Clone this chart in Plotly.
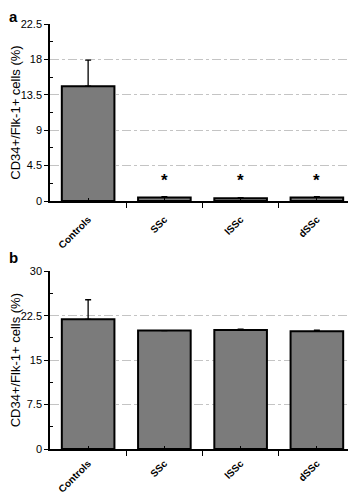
import plotly.graph_objects as go

categories = ["Controls", "SSc", "lSSc", "dSSc"]
values_a = [14.6, 0.45, 0.35, 0.45]
errors_a = [3.3, 0.1, 0.08, 0.12]
values_b = [21.9, 20.0, 20.1, 19.9]
errors_b = [3.3, 0.0, 0.15, 0.15]
star_labels = ["", "*", "*", "*"]
star_y = 2.6
ticks_a = [0, 4.5, 9, 13.5, 18, 22.5]
ticks_b = [0, 7.5, 15, 22.5, 30]
y_title = "CD34+/Flk-1+ cells (%)"
panel_labels = ["a", "b"]

xpos = list(range(len(categories)))
BAR = "#7b7b7b"
FONT = "Liberation Sans, Arial, sans-serif"

fig = go.Figure()
for vals, errs, xa, ya in [(values_a, errors_a, "x", "y"), (values_b, errors_b, "x2", "y2")]:
    fig.add_trace(go.Bar(
        x=xpos, y=vals, xaxis=xa, yaxis=ya, width=0.69,
        marker=dict(color=BAR, line=dict(color="black", width=2)),
        error_y=dict(type="data", symmetric=False, array=errs,
                     arrayminus=[0] * len(errs), color="black",
                     thickness=1.3, width=3),
        showlegend=False,
    ))

for i, s in enumerate(star_labels):
    if s:
        fig.add_annotation(x=xpos[i], y=star_y, xref="x", yref="y", text="<b>%s</b>" % s,
                           showarrow=False, font=dict(size=17, color="black", family=FONT),
                           yanchor="middle")

def xaxis_common(domain_anchor, standoff):
    return dict(
        range=[-0.5, 3.5], tickmode="array", tickvals=xpos, ticktext=categories,
        tickangle=-45, ticks="inside", ticklen=3, tickcolor="black", tickwidth=1,
        tickfont=dict(size=10, family="Liberation Sans, Arial", color="black", weight="bold"),
        ticklabelstandoff=standoff,
        showline=True, linecolor="black", linewidth=1.5, showgrid=False, zeroline=False,
        minor=dict(tick0=0.5, dtick=1, ticks="outside", ticklen=5, tickcolor="black", tickwidth=1),
        anchor=domain_anchor, fixedrange=True, automargin=False,
    )

def yaxis_common(rng, tv, dom, anchor):
    step = tv[1] - tv[0]
    return dict(
        domain=dom, range=rng, tickmode="array", tickvals=tv,
        ticktext=[("%g" % t) for t in tv],
        ticks="outside", ticklen=4, tickcolor="black", tickwidth=1,
        tickfont=dict(size=11, family=FONT, color="black"),
        showline=True, linecolor="black", linewidth=1.5,
        showgrid=True, gridcolor="#c4c4c4", gridwidth=1, griddash="dashdot",
        zeroline=False, anchor=anchor, automargin=False,
        minor=dict(tick0=step / 2, dtick=step, ticks="inside", ticklen=3,
                   tickcolor="black", tickwidth=1, showgrid=False),
        title=dict(text=y_title, font=dict(size=13, family=FONT, color="black"), standoff=2),
        fixedrange=True,
    )

# The page body has an 8px default margin, so the figure is 8px smaller.
fig.update_layout(
    width=348, height=487,
    margin=dict(l=42, r=1, t=16, b=46),
    paper_bgcolor="white", plot_bgcolor="white",
    bargap=0.3,
    xaxis=dict(**xaxis_common("y", 7), domain=[0, 1]),
    yaxis=yaxis_common([0, 22.5], ticks_a, [0.5835, 1.0], "x"),
    xaxis2=dict(**xaxis_common("y2", 3), domain=[0, 1]),
    yaxis2=yaxis_common([0, 30], ticks_b, [0.0, 0.418], "x2"),
)

fig.add_annotation(x=-42 / 305, y=1.0, xref="paper", yref="paper",
                   text="<b>%s</b>" % panel_labels[0], showarrow=False,
                   xanchor="left", yanchor="bottom", yshift=-3, xshift=-1,
                   font=dict(size=15, family=FONT, color="black"))
fig.add_annotation(x=-42 / 305, y=0.418, xref="paper", yref="paper",
                   text="<b>%s</b>" % panel_labels[1], showarrow=False,
                   xanchor="left", yanchor="bottom", yshift=3, xshift=-1,
                   font=dict(size=15, family=FONT, color="black"))

fig.write_html("out.html")
